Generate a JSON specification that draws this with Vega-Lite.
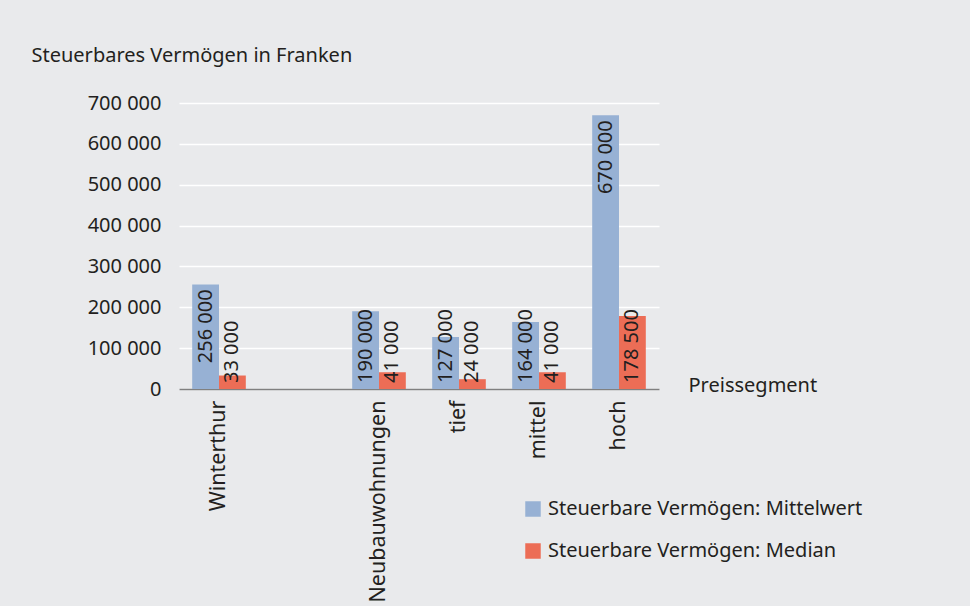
{
  "$schema": "https://vega.github.io/schema/vega-lite/v6.json",
  "width": 480,
  "height": 286,
  "autosize": {"type": "none"},
  "padding": {"left": 179, "top": 103, "right": 311, "bottom": 217},
  "background": "#e9eaec",
  "config": {
    "font": "Noto Sans",
    "locale": {"number": {"decimal": ".", "thousands": " ", "grouping": [3], "currency": ["", ""]}},
    "view": {"stroke": null},
    "axis": {"labelFont": "Noto Sans", "titleFont": "Noto Sans", "labelColor": "#231f20", "titleColor": "#231f20", "labelFontSize": 20, "titleFontSize": 20, "titleFontWeight": "normal"},
    "legend": {"labelFont": "Noto Sans", "labelFontSize": 20, "labelColor": "#231f20", "labelLimit": 0}
  },
  "data": {"values": [
    {"kategorie": "Winterthur", "serie": "Steuerbare Vermögen: Mittelwert", "wert": 256000},
    {"kategorie": "Winterthur", "serie": "Steuerbare Vermögen: Median", "wert": 33000},
    {"kategorie": "Neubauwohnungen", "serie": "Steuerbare Vermögen: Mittelwert", "wert": 190000},
    {"kategorie": "Neubauwohnungen", "serie": "Steuerbare Vermögen: Median", "wert": 41000},
    {"kategorie": "tief", "serie": "Steuerbare Vermögen: Mittelwert", "wert": 127000},
    {"kategorie": "tief", "serie": "Steuerbare Vermögen: Median", "wert": 24000},
    {"kategorie": "mittel", "serie": "Steuerbare Vermögen: Mittelwert", "wert": 164000},
    {"kategorie": "mittel", "serie": "Steuerbare Vermögen: Median", "wert": 41000},
    {"kategorie": "hoch", "serie": "Steuerbare Vermögen: Mittelwert", "wert": 670000},
    {"kategorie": "hoch", "serie": "Steuerbare Vermögen: Median", "wert": 178500}
  ]},
  "encoding": {
    "x": {
      "field": "kategorie", "type": "nominal",
      "scale": {"domain": ["Winterthur", " ", "Neubauwohnungen", "tief", "mittel", "hoch"], "paddingInner": 0.33, "paddingOuter": 0.165},
      "axis": {
        "title": "Preissegment", "titleAngle": 0, "titleAlign": "left", "titleBaseline": "middle",
        "titleX": 509, "titleY": -4,
        "labelAngle": -90, "labelAlign": "right", "labelBaseline": "middle", "labelPadding": 11,
        "labelFontSize": 21.5, "labelLimit": 0,
        "ticks": false, "domainColor": "#808080", "domainWidth": 1.5
      }
    },
    "xOffset": {"field": "serie", "type": "nominal", "sort": ["Steuerbare Vermögen: Mittelwert", "Steuerbare Vermögen: Median"]},
    "y": {
      "field": "wert", "type": "quantitative",
      "scale": {"domain": [0, 700000], "nice": false},
      "axis": {
        "title": "Steuerbares Vermögen in Franken", "titleAngle": 0, "titleAlign": "left", "titleBaseline": "middle",
        "titleX": -148, "titleY": -48,
        "values": [0, 100000, 200000, 300000, 400000, 500000, 600000, 700000],
        "format": ",d",
        "ticks": false, "domain": false, "labelPadding": 18,
        "gridColor": "#ffffff", "gridWidth": 1.5
      }
    }
  },
  "layer": [
    {
      "mark": {"type": "bar"},
      "encoding": {
        "color": {
          "field": "serie", "type": "nominal",
          "scale": {"domain": ["Steuerbare Vermögen: Mittelwert", "Steuerbare Vermögen: Median"], "range": ["#97b1d4", "#ec6d56"]},
          "legend": {"title": null, "orient": "none", "legendX": 344, "legendY": 396, "symbolType": "square", "symbolSize": 240, "symbolStrokeWidth": 0, "rowPadding": 22, "labelOffset": 5}
        }
      }
    },
    {
      "transform": [{"filter": "datum.serie == 'Steuerbare Vermögen: Mittelwert' && datum.wert > 200000"}],
      "mark": {"type": "text", "angle": -90, "align": "right", "baseline": "middle", "dx": -5, "fontSize": 20, "color": "#231f20"},
      "encoding": {"text": {"field": "wert", "type": "quantitative", "format": ",d"}}
    },
    {
      "transform": [{"filter": "datum.serie == 'Steuerbare Vermögen: Median' || datum.wert <= 200000"}],
      "mark": {"type": "text", "angle": -90, "align": "left", "baseline": "middle", "dx": 6, "fontSize": 20, "color": "#231f20"},
      "encoding": {
        "y": {"datum": 0, "type": "quantitative"},
        "text": {"field": "wert", "type": "quantitative", "format": ",d"}
      }
    }
  ]
}
